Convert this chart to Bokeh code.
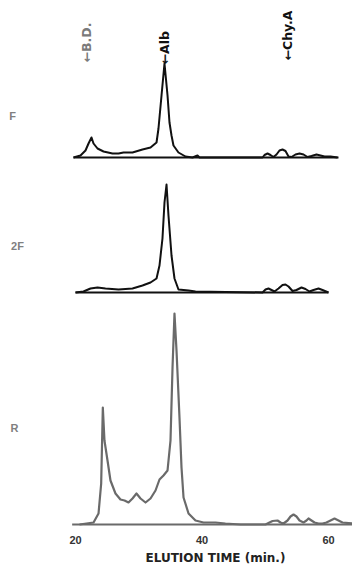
from bokeh.plotting import figure
from bokeh.models import Range1d, FixedTicker, Title
from bokeh.core.properties import value
from bokeh.embed import file_html
from bokeh.resources import INLINE
import numpy as np

# ---------------- data (elution time in min, relative absorbance) ----------------
f_time = [19.68, 20.79, 21.58, 22.06, 22.53, 22.85, 23.48, 24.43, 25.85, 26.80, 27.59, 29.01,
          30.59, 31.86, 32.81, 33.12, 33.60, 34.07, 34.55, 34.86, 35.18, 35.49, 36.28, 37.39,
          38.50, 39.29, 39.61, 49.57, 49.88, 50.36, 50.83, 51.30, 51.78, 52.25, 52.73, 53.20,
          53.68, 54.15, 54.78, 55.42, 56.05, 56.68, 57.31, 58.10, 58.74, 59.37, 60.32, 61.42]
f_abs = [0, 2, 7, 14, 20, 14, 9, 6, 4, 4, 5, 5,
         8, 10, 15, 29, 62, 94, 62, 35, 22, 12, 5, 1,
         0, 2, 0, 0, 2.5, 4, 2.5, 0.5, 3, 7, 8, 6.5,
         1, 0.5, 3, 4, 3, 0.5, 1.5, 3, 2, 1, 1, 0]

f2_time = [20.00, 21.26, 22.37, 23.48, 24.74, 26.80, 29.01, 30.59, 31.86, 32.81, 33.28, 33.75,
           34.07, 34.39, 34.70, 35.18, 35.65, 36.28, 37.87, 38.97, 49.57, 50.04, 50.51, 50.99,
           51.46, 52.09, 52.73, 53.20, 53.68, 54.31, 54.94, 55.73, 56.36, 56.99, 57.63, 58.42,
           59.05, 60.00]
f2_abs = [0, 1, 4, 5, 4, 3, 4, 7, 10, 14, 27, 54,
          90, 108, 77, 37, 14, 3, 2, 1, 0, 3, 4, 2.5,
          1, 4, 7.5, 8, 6, 1.5, 2.5, 5, 3.5, 1, 2.5, 4,
          2.5, 0]

r_time = [20.63, 22.85, 23.64, 24.06, 24.32, 24.58, 25.06, 25.53, 26.32, 27.11, 27.75, 28.38,
          29.01, 29.64, 30.28, 31.07, 31.86, 32.65, 33.28, 33.91, 34.55, 35.02, 35.34, 35.65,
          35.97, 36.44, 36.76, 37.08, 37.87, 38.97, 40.24, 42.13, 43.70, 46.09, 50.04, 50.67,
          51.15, 51.94, 52.41, 52.89, 53.52, 53.99, 54.47, 54.94, 55.42, 56.05, 56.52, 56.84,
          57.31, 57.79, 58.42, 59.05, 59.68, 60.32, 60.95, 61.58, 62.21, 63.79]
r_abs = [0, 2, 11, 41, 117, 84, 64, 44, 31, 25, 24, 22,
         26, 31, 26, 22, 26, 34, 45, 49, 54, 84, 157, 211,
         174, 107, 57, 27, 11, 4, 2, 2, 1, 0, 0, 2,
         3.5, 4, 2, 1, 4, 8, 10, 8, 4, 2, 4, 6,
         4, 2, 1, 1, 2, 4, 6, 4, 2, 1]

trace_names = ["F", "2F", "R"]
baseline_start = [19.68, 20.00, 19.47]
baseline_end = [61.58, 60.00, 63.80]

marker_names = ["\u2190B.D.", "\u2190Alb", "\u2190Chy.A"]
marker_times = [21.74, 34.0, 53.5]

tick_values = [20, 40, 60]
x_title = "ELUTION TIME (min.)"

# ---------------- layout constants ----------------
offsets = [371, 236, 4]
colors = ["#111111", "#111111", "#6a6a6a"]
label_x = [10.04, 10.83, 10.36]
label_y = [413, 283, 101]
marker_y = [466, 464, 468]
marker_colors = ["#7a7a7a", "#111111", "#111111"]

FONT = "Liberation Sans"

p = figure(frame_width=352, frame_height=528,
           x_range=Range1d(8.142, 63.794), y_range=Range1d(0, 528),
           output_backend="svg", toolbar_location=None, min_border=0,
           y_axis_location=None, outline_line_color=None,
           background_fill_color="white", border_fill_color="white")
p.grid.visible = False

series = [(f_time, f_abs), (f2_time, f2_abs), (r_time, r_abs)]
widths = [2, 2, 2.2]
for i, (t, a) in enumerate(series):
    y = np.array(a, dtype=float) + offsets[i]
    p.segment(x0=[baseline_start[i]], y0=[offsets[i]], x1=[baseline_end[i]], y1=[offsets[i]],
              line_color=colors[i], line_width=widths[i])
    p.line(t, y, line_color=colors[i], line_width=widths[i], line_join="round")

p.text(x=label_x, y=label_y, text=trace_names, text_font=value(FONT),
       text_font_style="bold", text_font_size="11px", text_color="#808080",
       text_align="center", text_baseline="middle")

p.text(x=marker_times, y=marker_y, text=marker_names, angle=np.pi / 2,
       text_font=value("DejaVu Sans"), text_font_style="bold", text_font_size="12.5px",
       text_color=marker_colors, text_align="left", text_baseline="middle")

ax = p.xaxis[0]
ax.ticker = FixedTicker(ticks=tick_values)
ax.axis_line_color = None
ax.major_tick_line_color = None
ax.minor_tick_line_color = None
ax.major_label_text_font = FONT
ax.major_label_text_font_style = "bold"
ax.major_label_text_font_size = "11px"
ax.major_label_text_color = "#333333"
ax.major_label_standoff = 1

p.add_layout(Title(text=x_title, align="left", offset=145, standoff=4,
                   text_font="DejaVu Sans", text_font_style="bold",
                   text_font_size="12px", text_color="#222222"), "below")

open("out.html", "w").write(file_html(p, INLINE))
